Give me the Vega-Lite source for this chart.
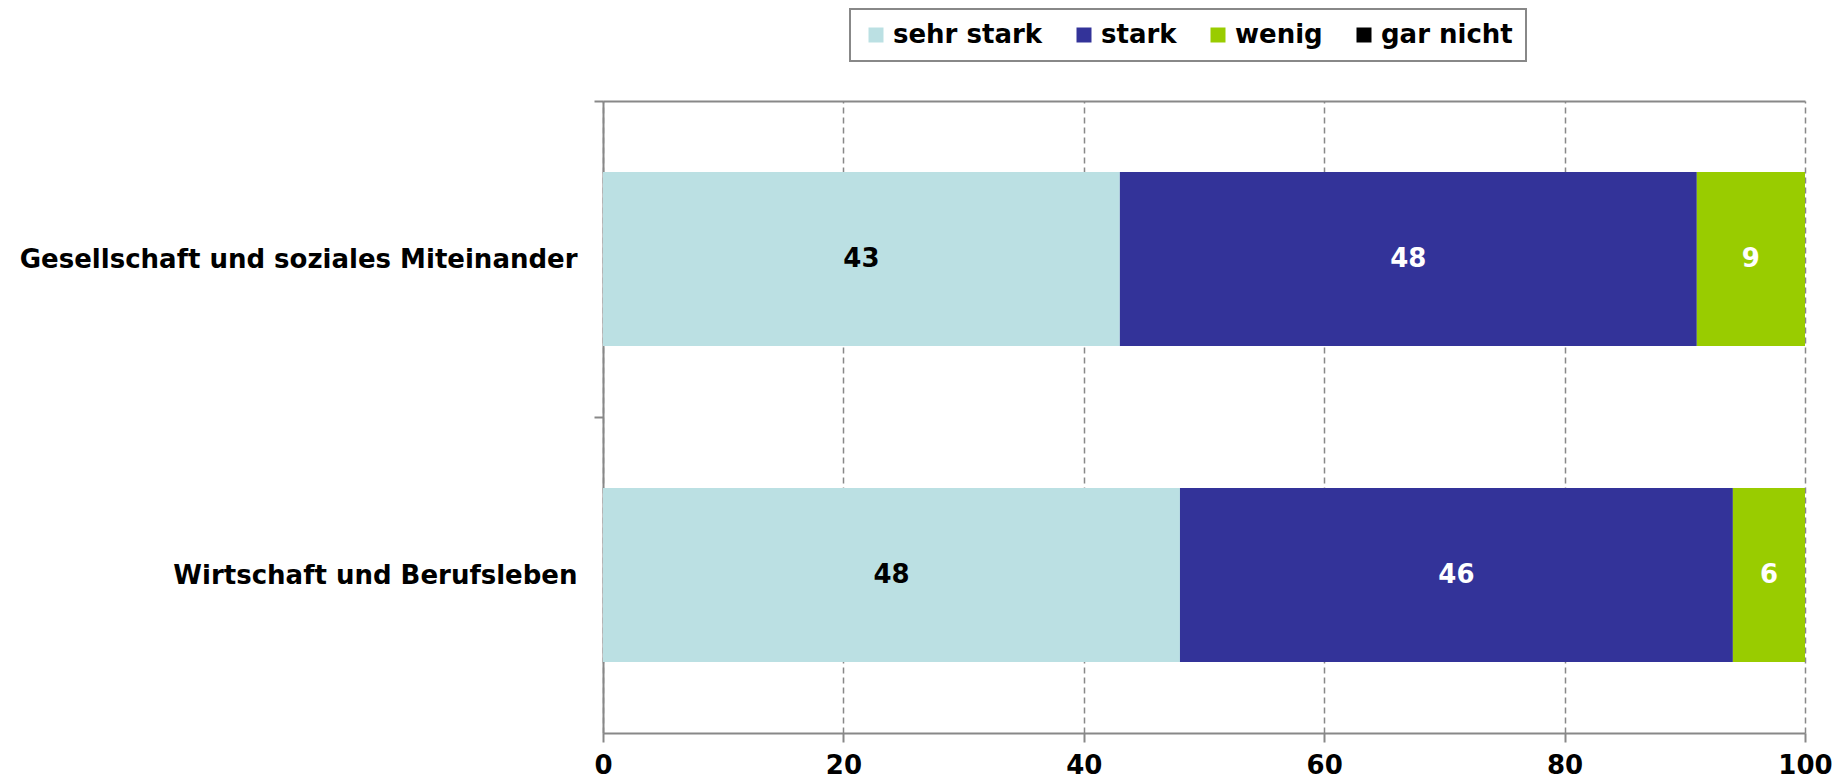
{
  "$schema": "https://vega.github.io/schema/vega-lite/v6.json",
  "width": 1202,
  "height": 632,
  "autosize": {"type": "none"},
  "padding": {"left": 603, "top": 101, "right": 40, "bottom": 46},
  "background": "white",
  "config": {
    "view": {"stroke": null},
    "font": "DejaVu Sans",
    "axis": {"labelFont": "DejaVu Sans", "labelFontWeight": "bold", "labelColor": "black", "domainColor": "#888888", "tickColor": "#888888", "domainWidth": 2, "tickWidth": 2, "tickSize": 9},
    "legend": {
      "orient": "none",
      "legendX": 247,
      "legendY": -92,
      "direction": "horizontal",
      "strokeColor": "#888888",
      "strokeWidth": 2,
      "padding": 13,
      "fillColor": "white",
      "symbolType": "square",
      "symbolSize": 225,
      "symbolStrokeWidth": 0,
      "labelFont": "DejaVu Sans",
      "labelFontWeight": "bold",
      "labelFontSize": 26,
      "labelColor": "black",
      "labelOffset": 4,
      "columnPadding": 28,
      "titleFontSize": 0
    }
  },
  "data": {
    "values": [
      {"bereich": "Gesellschaft und soziales Miteinander", "kategorie": "sehr stark", "wert": 43, "ord": 1},
      {"bereich": "Gesellschaft und soziales Miteinander", "kategorie": "stark", "wert": 48, "ord": 2},
      {"bereich": "Gesellschaft und soziales Miteinander", "kategorie": "wenig", "wert": 9, "ord": 3},
      {"bereich": "Gesellschaft und soziales Miteinander", "kategorie": "gar nicht", "wert": 0, "ord": 4},
      {"bereich": "Wirtschaft und Berufsleben", "kategorie": "sehr stark", "wert": 48, "ord": 1},
      {"bereich": "Wirtschaft und Berufsleben", "kategorie": "stark", "wert": 46, "ord": 2},
      {"bereich": "Wirtschaft und Berufsleben", "kategorie": "wenig", "wert": 6, "ord": 3},
      {"bereich": "Wirtschaft und Berufsleben", "kategorie": "gar nicht", "wert": 0, "ord": 4}
    ]
  },
  "resolve": {"axis": {"x": "independent"}},
  "layer": [
    {
      "mark": {"type": "bar"},
      "encoding": {
        "y": {
          "field": "bereich", "type": "nominal", "sort": null,
          "scale": {"paddingInner": 0.45, "paddingOuter": 0.225},
          "axis": {"title": null, "labelFontSize": 26, "labelPadding": 17, "tickOffset": -158, "labelOffset": 158, "grid": false, "labelLimit": 700}
        },
        "x": {
          "field": "wert", "type": "quantitative", "stack": "zero",
          "scale": {"domain": [0, 100], "nice": false},
          "axis": {"title": null, "values": [0, 20, 40, 60, 80, 100], "labelFontSize": 26, "labelPadding": 10, "grid": true, "gridColor": "#888888", "gridDash": [6, 4], "gridWidth": 1.5, "labelFlush": false}
        },
        "color": {
          "field": "kategorie", "type": "nominal",
          "scale": {"domain": ["sehr stark", "stark", "wenig", "gar nicht"], "range": ["#BBE0E3", "#333399", "#99CC00", "#000000"]},
          "legend": {"title": null}
        },
        "order": {"field": "ord", "type": "quantitative"}
      }
    },
    {
      "transform": [
        {"stack": "wert", "groupby": ["bereich"], "sort": [{"field": "ord"}], "as": ["x0", "x1"]},
        {"fold": ["x0", "x1"], "as": ["ende", "pos"]},
        {"aggregate": [{"op": "mean", "field": "pos", "as": "mitte"}], "groupby": ["bereich", "kategorie", "wert"]},
        {"filter": "datum.wert > 0"}
      ],
      "mark": {"type": "text", "fontSize": 26, "fontWeight": "bold", "font": "DejaVu Sans", "align": "center", "baseline": "middle"},
      "encoding": {
        "y": {"field": "bereich", "type": "nominal", "sort": null},
        "x": {
          "field": "mitte", "type": "quantitative",
          "axis": {"orient": "top", "title": null, "labels": false, "ticks": false, "grid": false, "domain": true, "domainColor": "#888888", "domainWidth": 2}
        },
        "text": {"field": "wert", "type": "quantitative"},
        "color": {"condition": {"test": "datum.kategorie === 'sehr stark'", "value": "black"}, "value": "white"}
      }
    }
  ]
}
